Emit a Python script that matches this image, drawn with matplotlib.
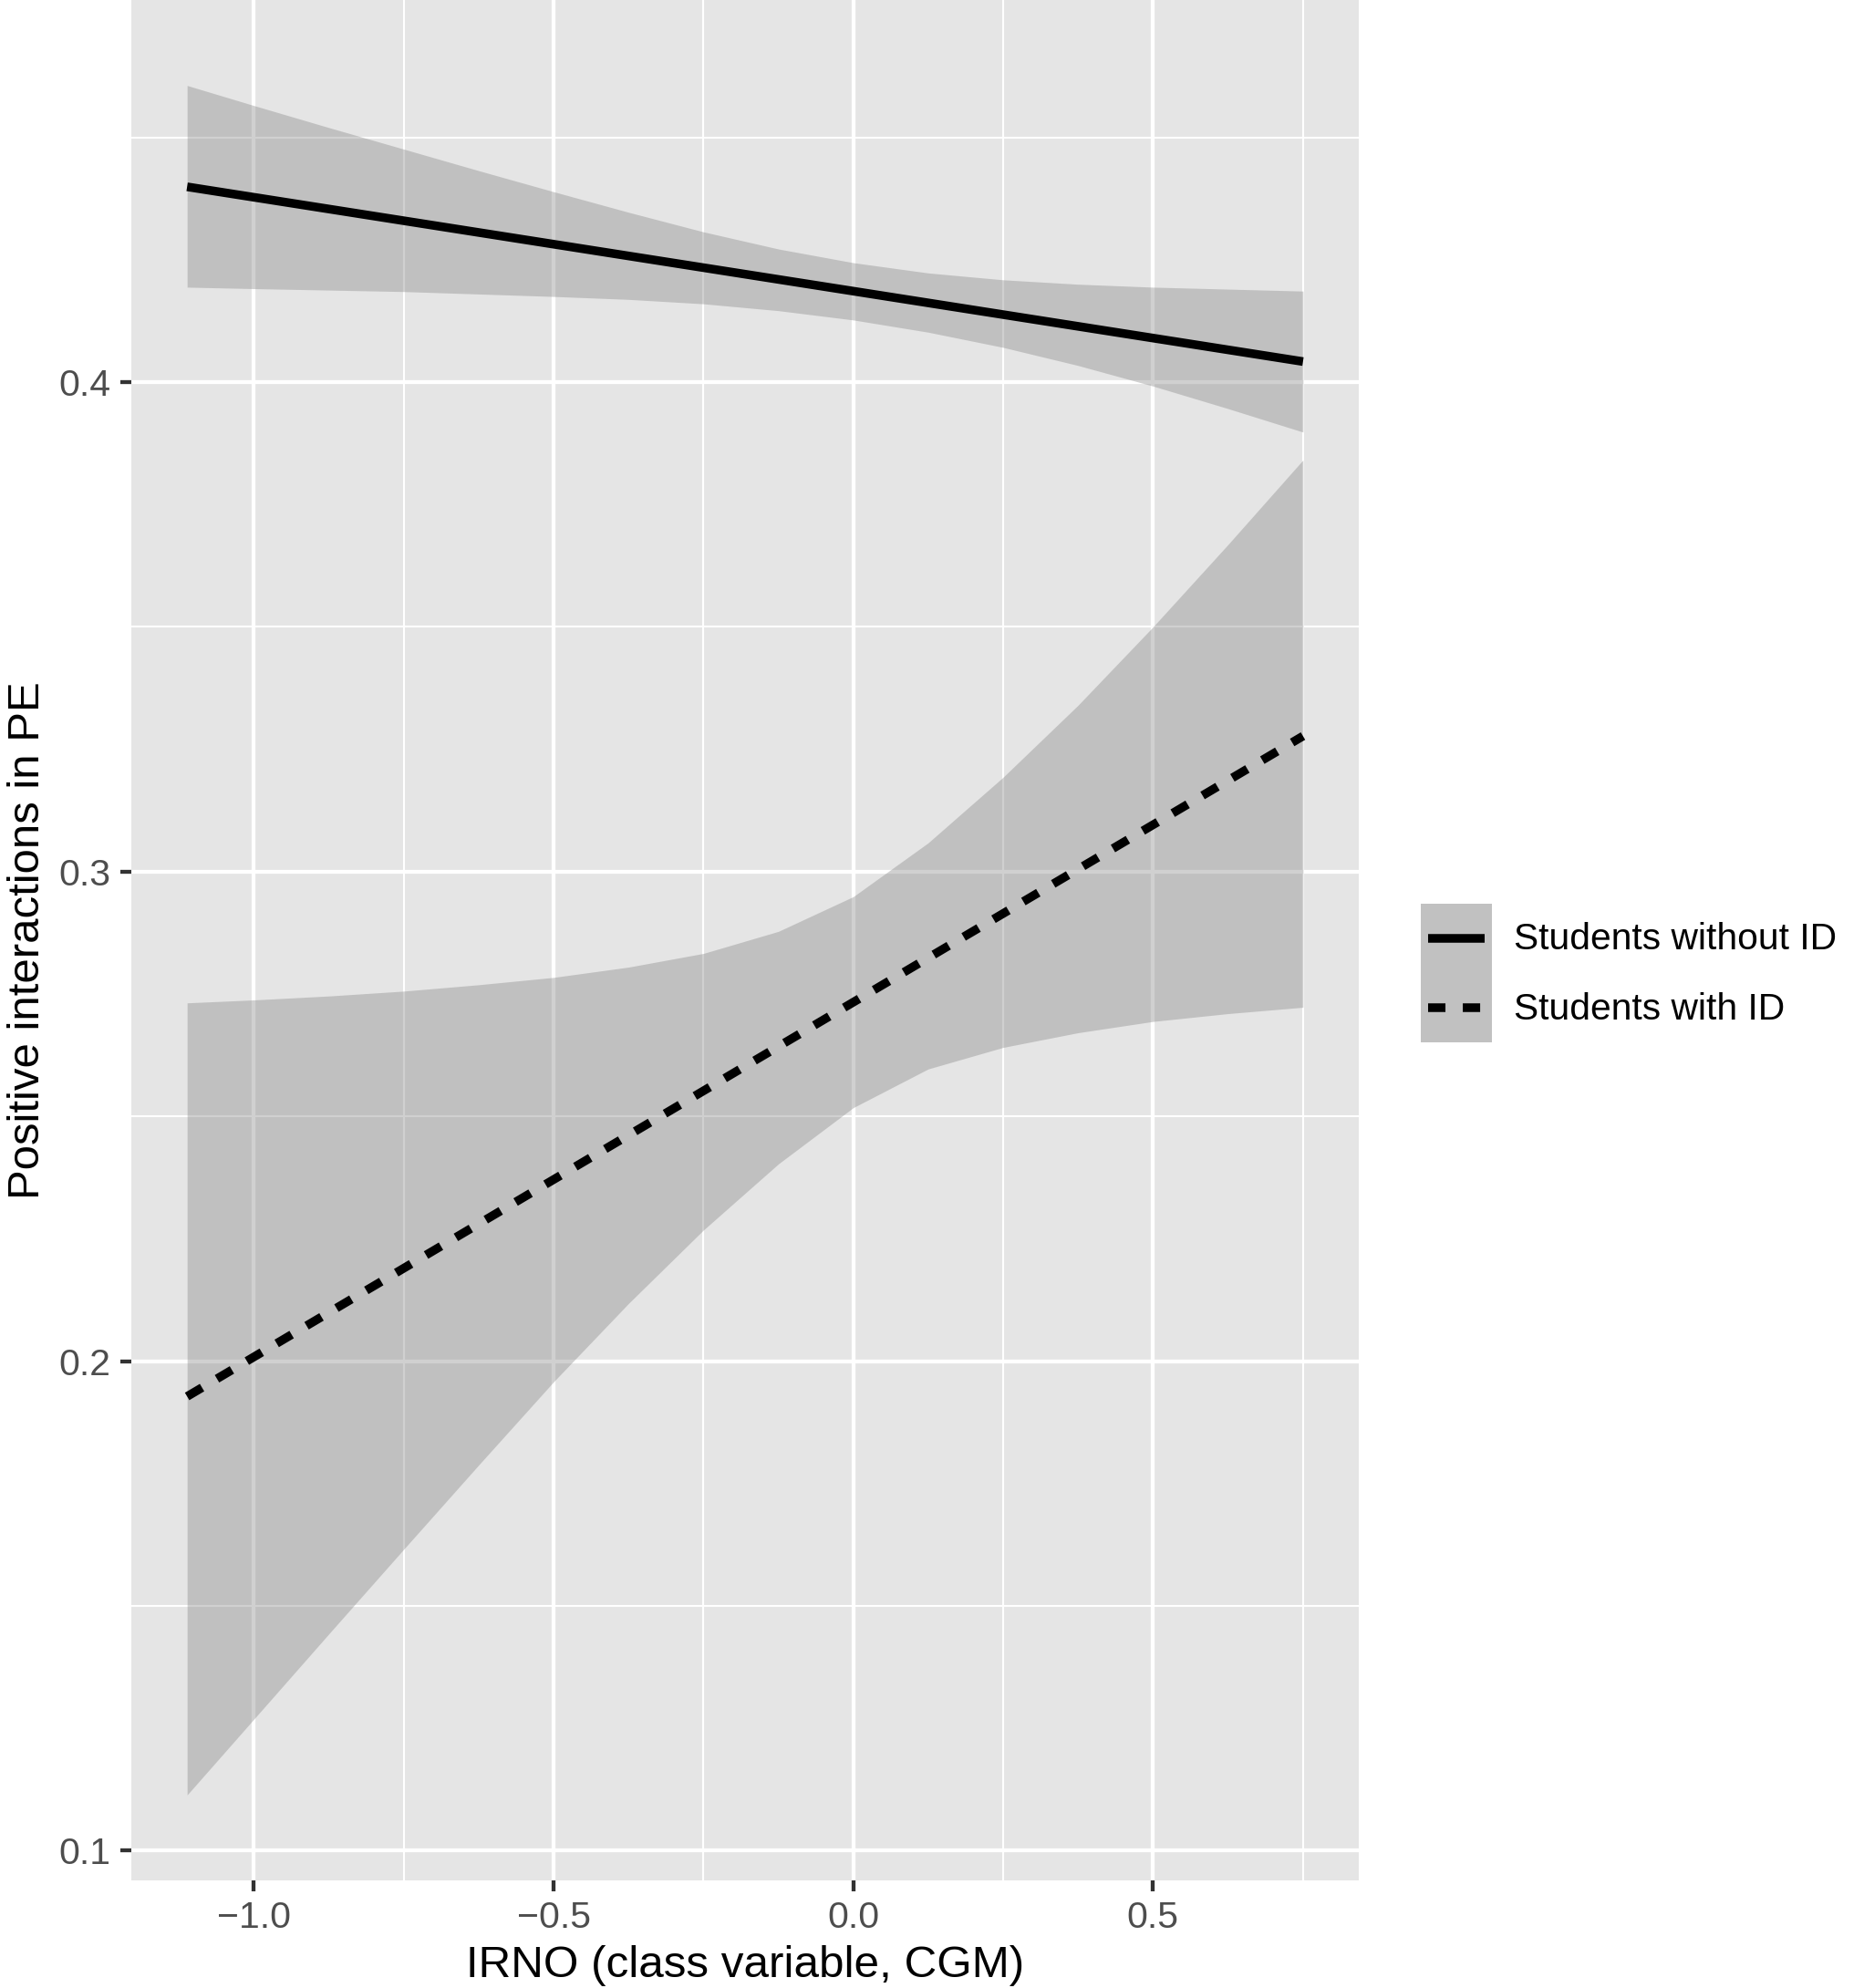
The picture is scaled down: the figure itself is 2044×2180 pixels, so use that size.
import matplotlib
matplotlib.use("Agg")
import matplotlib.pyplot as plt
from matplotlib.patches import Patch
from matplotlib.lines import Line2D
from matplotlib.legend_handler import HandlerTuple, HandlerLine2D

plt.rcParams["font.family"] = ["Liberation Sans", "DejaVu Sans"]

# values
irno = [-1.1115, -1.0, -0.875, -0.75, -0.625, -0.5, -0.375, -0.25,
        -0.125, 0.0, 0.125, 0.25, 0.375, 0.5, 0.625, 0.7503]

without_lower = [0.4194, 0.4191, 0.4188, 0.4185, 0.4180, 0.4175, 0.4169, 0.4160,
                 0.4146, 0.4127, 0.4102, 0.4071, 0.4034, 0.3992, 0.3946, 0.3898]
without_upper = [0.4606, 0.4565, 0.4520, 0.4476, 0.4432, 0.4389, 0.4347, 0.4307,
                 0.4272, 0.4244, 0.4223, 0.4209, 0.4200, 0.4194, 0.4190, 0.4186]

with_lower = [0.1114, 0.1269, 0.1443, 0.1616, 0.1788, 0.1958, 0.2118, 0.2268,
              0.2403, 0.2518, 0.2597, 0.2641, 0.2671, 0.2694, 0.2710, 0.2723]
with_upper = [0.2732, 0.2738, 0.2746, 0.2756, 0.2769, 0.2784, 0.2805, 0.2833,
              0.2878, 0.2949, 0.3059, 0.3193, 0.3340, 0.3500, 0.3668, 0.3841]

line_x = [-1.1115, 0.7503]
fit_without = [0.4399, 0.4042]
fit_with = [0.1928, 0.3277]

labels = ["Students without ID", "Students with ID"]

W, H = 2044, 2180
PANEL = "#E5E5E5"
BAND = "#8A8A8A"
KEY = "#C1C1C1"
LW = 6.85
DASH = (2.0, 2.0)


class CenteredLine(HandlerLine2D):
    # put the key line in the middle of the key box, as ggplot does
    def create_artists(self, legend, orig_handle, xdescent, ydescent,
                       width, height, fontsize, trans):
        return super().create_artists(legend, orig_handle, xdescent, 2 * ydescent,
                                      width, height, fontsize, trans)


fig = plt.figure(figsize=(W / 100, H / 100), dpi=100)
ax = fig.add_axes([144 / W, (H - 2062) / H, (1490 - 144) / W, 2062 / H])
ax.set_facecolor(PANEL)
for s in ax.spines.values():
    s.set_visible(False)

ax.fill_between(irno, without_lower, without_upper, color=BAND, alpha=0.4, lw=0)
ax.fill_between(irno, with_lower, with_upper, color=BAND, alpha=0.4, lw=0)
ax.plot(line_x, fit_without, color="black", lw=LW, solid_capstyle="butt")
ax.plot(line_x, fit_with, color="black", lw=LW, dashes=DASH, dash_capstyle="butt")

# ggplot-like 5% expansion of the data range
lo = min(with_lower + without_lower)
hi = max(with_upper + without_upper)
xr = irno[-1] - irno[0]
ax.set_xlim(irno[0] - 0.05 * xr, irno[-1] + 0.05 * xr)
ax.set_ylim(lo - 0.05 * (hi - lo), hi + 0.05 * (hi - lo))

ax.set_xticks([-1.0, -0.5, 0.0, 0.5])
ax.set_xticks([-0.75, -0.25, 0.25, 0.75], minor=True)
ax.set_yticks([0.1, 0.2, 0.3, 0.4])
ax.set_yticks([0.15, 0.25, 0.35, 0.45], minor=True)
ax.set_axisbelow(True)
ax.grid(which="major", color="white", lw=3.1)
ax.grid(which="minor", color="white", lw=1.5)
ax.tick_params(which="major", length=8.7, width=3.1, color="#333333",
               labelcolor="#4D4D4D", labelsize=29.5)
ax.tick_params(axis="x", which="major", pad=7.3)
ax.tick_params(axis="y", which="major", pad=7.6)
ax.tick_params(which="minor", length=0)

ax.set_xlabel("IRNO (class variable, CGM)", fontsize=35.6, va="baseline")
ax.xaxis.set_label_coords(0.5, -(2168 - 2062) / 2062)
ax.set_ylabel("Positive interactions in PE", fontsize=35.4, va="baseline")
ax.yaxis.set_label_coords((43 - 144) / 1346, 0.5)

handles = [
    (Patch(facecolor=KEY, edgecolor="none"),
     Line2D([], [], color="black", lw=LW, solid_capstyle="butt")),
    (Patch(facecolor=KEY, edgecolor="none"),
     Line2D([], [], color="black", lw=LW, dashes=DASH, dash_capstyle="butt")),
]
fig.legend(handles, labels,
           handler_map={tuple: HandlerTuple(ndivide=1, pad=0),
                        Line2D: CenteredLine(numpoints=2, marker_pad=0.19)},
           loc="upper left", bbox_to_anchor=(1558 / W, 1 - 991 / H),
           frameon=False, fontsize=29.3, handlelength=1.91, handleheight=2.5,
           labelspacing=0, borderpad=0, borderaxespad=0, handletextpad=0.59)

fig.savefig("out.png", dpi=100, facecolor="white")
